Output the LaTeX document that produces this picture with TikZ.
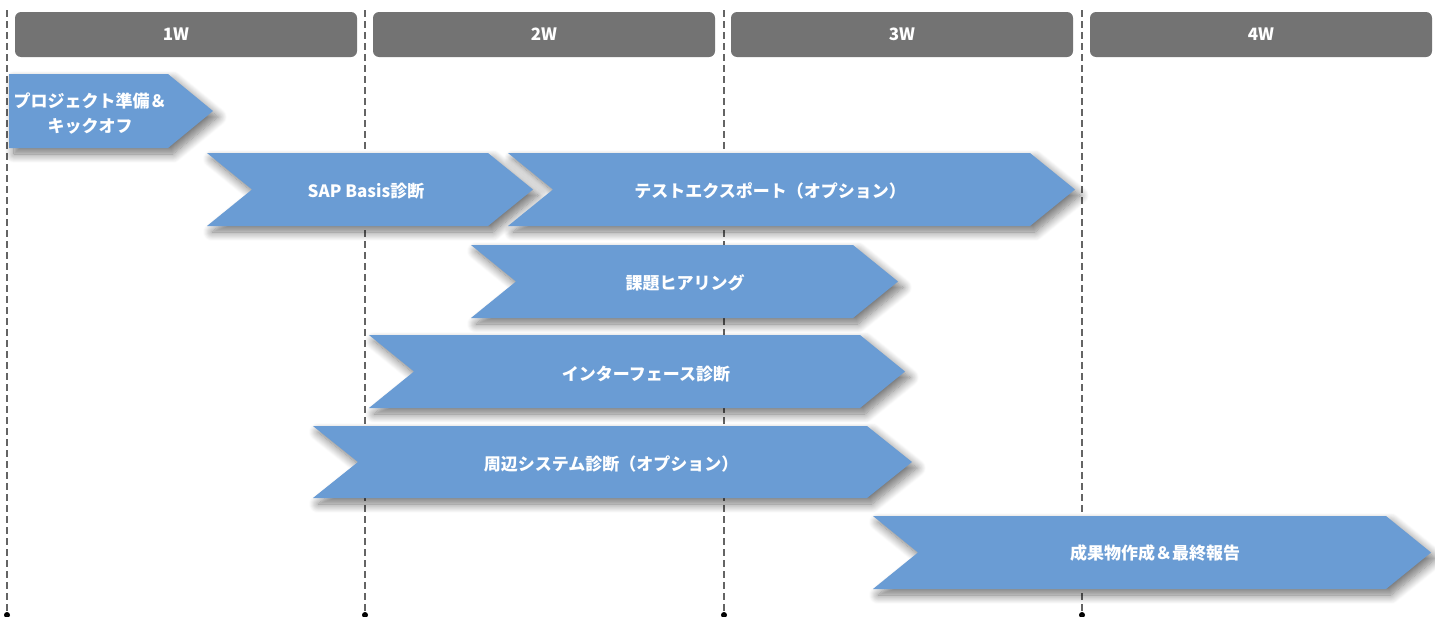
\documentclass[tikz,border=0pt]{standalone}
\usepackage{fontspec}
\setmainfont{Noto Sans CJK JP}
\usetikzlibrary{shadows.blur}

\definecolor{phaseblue}{RGB}{106,156,212}
\definecolor{weekgray}{RGB}{115,115,115}
\definecolor{gridgray}{RGB}{100,100,100}

\tikzset{
  weekbar/.style={fill=weekgray, rounded corners=6pt, minimum width=342pt,
    minimum height=45pt, inner sep=0pt},
  weektext/.style={text=white, font=\bfseries\fontsize{17}{20}\selectfont},
  phase/.style={fill=phaseblue, blur shadow={shadow xshift=5pt,
    shadow yshift=-6pt, shadow blur radius=9pt, shadow opacity=55,
    shadow blur steps=12}},
  phasetext/.style={text=white, font=\bfseries\fontsize{17}{25}\selectfont,
    align=center, inner sep=0pt},
  gridline/.style={gridgray, dash pattern=on 7pt off 4pt, line width=1.3pt},
  griddot/.style={circle, fill=black, inner sep=0pt, minimum size=6pt},
}

\begin{document}
\begin{tikzpicture}[x=1pt, y=-1pt]
  \useasboundingbox (0,0) rectangle (1435,616);

  % week grid
  \coordinate (top1) at (7,10);
  \coordinate (top2) at (365,10);
  \coordinate (top3) at (724,10);
  \coordinate (top4) at (1082,10);
  \node[griddot] (dot1) at (7,615) {};
  \node[griddot] (dot2) at (365,615) {};
  \node[griddot] (dot3) at (724,615) {};
  \node[griddot] (dot4) at (1082,615) {};
  \draw[gridline] (top1) -- (dot1.center);
  \draw[gridline] (top2) -- (dot2.center);
  \draw[gridline] (top3) -- (dot3.center);
  \draw[gridline] (top4) -- (dot4.center);

  % week headers
  \node[weekbar] (w1) at (186,34.5) {};
  \node[weekbar] (w2) at (544,34.5) {};
  \node[weekbar] (w3) at (902,34.5) {};
  \node[weekbar] (w4) at (1261,34.5) {};
  \node[weektext] (w1t) at (176,34.5) {1W};
  \node[weektext] (w2t) at (w2) {2W};
  \node[weektext] (w3t) at (w3) {3W};
  \node[weektext] (w4t) at (w4) {4W};

  % phases
  \path[phase] (9,74) -- (168,74) -- (213,111) -- (168,148) -- (9,148) -- cycle;
  \path[phase] (207,153) -- (488,153) -- (533,189.5) -- (488,226) -- (207,226)
    -- (252,189.5) -- cycle;
  \path[phase] (508,153) -- (1030,153) -- (1075,189.5) -- (1030,226) -- (508,226)
    -- (553,189.5) -- cycle;
  \path[phase] (471,245) -- (853,245) -- (898,281.5) -- (853,318) -- (471,318)
    -- (516,281.5) -- cycle;
  \path[phase] (369,335) -- (860,335) -- (905,371.5) -- (860,408) -- (369,408)
    -- (414,371.5) -- cycle;
  \path[phase] (313,426) -- (867,426) -- (912,462) -- (867,498) -- (313,498)
    -- (358,462) -- cycle;
  \path[phase] (873,516) -- (1386,516) -- (1431,552.5) -- (1386,589) -- (873,589)
    -- (918,552.5) -- cycle;

  % phase labels
  \node[phasetext] (kickoff) at (90,114) {プロジェクト準備＆\\キックオフ};
  \node[phasetext] (basis) at (366,191) {SAP Basis診断};
  \node[phasetext] (export) at (770,191) {テストエクスポート（オプション）};
  \node[phasetext] (hearing) at (685,283) {課題ヒアリング};
  \node[phasetext] (interface) at (646,374) {インターフェース診断};
  \node[phasetext] (periphery) at (611,464) {周辺システム診断（オプション）};
  \node[phasetext] (report) at (1155,553) {成果物作成＆最終報告};
\end{tikzpicture}
\end{document}
